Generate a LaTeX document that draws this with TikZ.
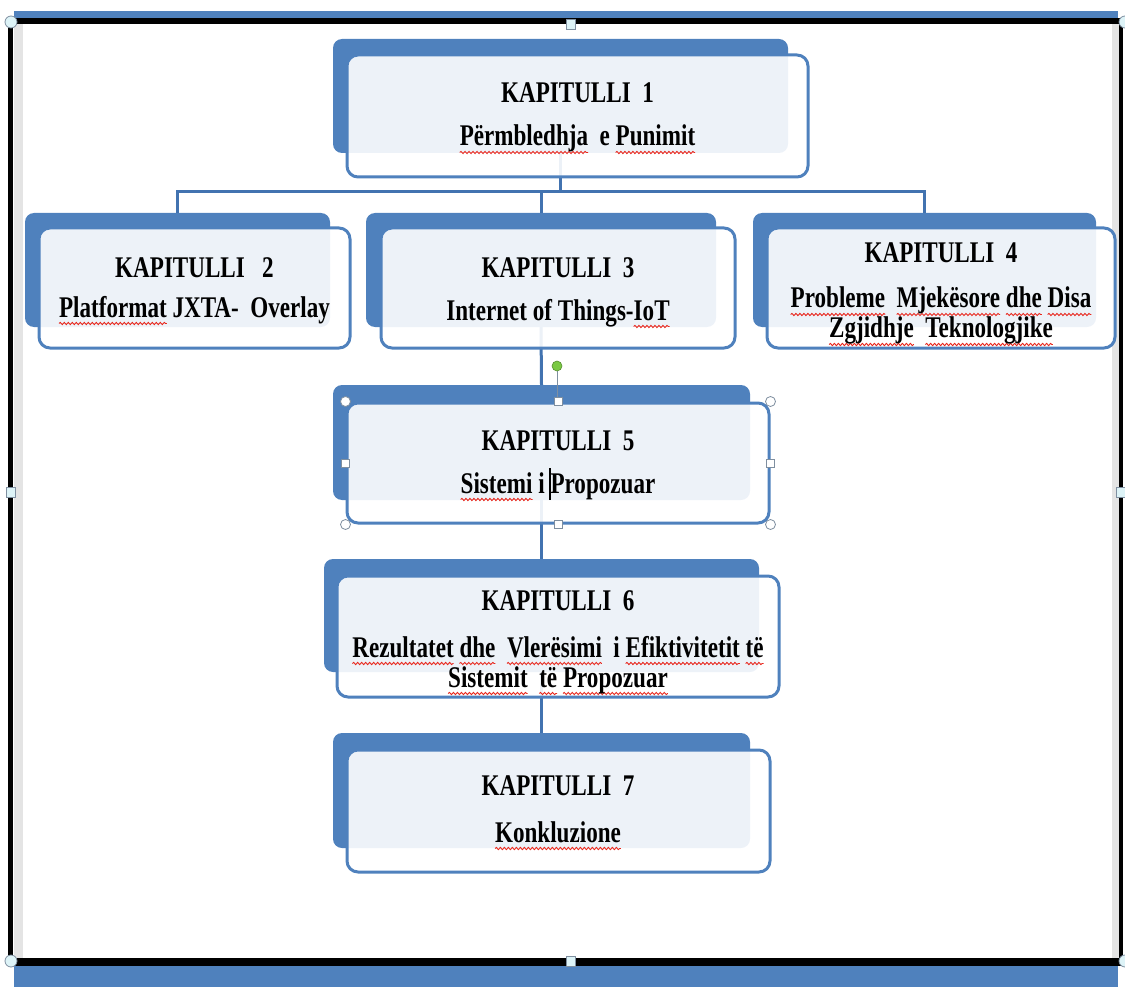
\documentclass[tikz,border=0pt]{standalone}
\usepackage{fontspec}
\usetikzlibrary{decorations.pathmorphing}
\newfontfamily\boxfont{Liberation Serif}[FakeStretch=0.77]

\definecolor{boxBlue}{HTML}{4F81BD}
\definecolor{lineBlue}{HTML}{4273B0}
\definecolor{handleFill}{HTML}{DDF3F7}
\definecolor{handleEdge}{HTML}{7F8FA0}
\definecolor{stripGray}{HTML}{E4E4E4}
\definecolor{rotGreen}{HTML}{7AC943}
\definecolor{waveRed}{HTML}{E8281E}

% red wavy spell-check underline drawn as a small snake path
\newsavebox\wavebox
\newcommand\redwave[1]{\leavevmode\sbox\wavebox{#1}%
  \rlap{\tikz[baseline=0pt]{%
    \path[use as bounding box] (0pt,0pt) rectangle (\the\wd\wavebox,0.1pt);
    \draw[waveRed, line width=0.9pt, decorate,
          decoration={snake, amplitude=1.1pt, segment length=4pt}]
      (0pt,-6.5pt) -- (\the\wd\wavebox,-6.5pt);}}%
  \usebox\wavebox}

\tikzset{
  backbox/.style={fill=boxBlue, draw=none, rounded corners=9pt, inner sep=0pt},
  frontbox/.style={fill=white, fill opacity=0.9, draw=boxBlue, draw opacity=1,
                   line width=3pt, rounded corners=11pt, inner sep=0pt},
  headtext/.style={font=\boxfont\bfseries\fontsize{30}{30}\selectfont,
                   anchor=base, inner sep=0pt, text=black},
  bodytext/.style={headtext},
  conn/.style={draw=lineBlue, line width=3pt},
  selcirc/.style={circle, draw=handleEdge, fill=white, line width=0.8pt,
                  minimum size=10pt, inner sep=0pt},
  selsq/.style={rectangle, draw=handleEdge, fill=white, line width=0.8pt,
                minimum size=8pt, inner sep=0pt},
  framecirc/.style={circle, draw=handleEdge, fill=handleFill, line width=0.8pt,
                    minimum size=12pt, inner sep=0pt},
  framesq/.style={rectangle, draw=handleEdge, fill=handleFill, line width=0.8pt,
                  minimum width=9pt, minimum height=10pt, inner sep=0pt},
}

\begin{document}
\begin{tikzpicture}[x=1pt, y=-1pt]
\useasboundingbox (0,0) rectangle (1125,987);

% ---- outer frame ----
\fill[boxBlue] (14,11) rectangle (1118,18);
\fill[boxBlue] (14,966) rectangle (1118,987);
\fill[stripGray] (14,24) rectangle (23,958);
\fill[stripGray] (1112,24) rectangle (1119,958);
\fill[black] (8,18) rectangle (1125,24);
\fill[black] (8,958) rectangle (1125,966);
\fill[black] (8,18) rectangle (13,966);
\fill[black] (1119,18) rectangle (1123,966);

% ---- connector bus level ----
\coordinate (bus) at (0,192);

% ---- back plates ----
\node[backbox, minimum width=455pt, minimum height=114pt] (b1) at (560.5,96) {};
\node[backbox, minimum width=305pt, minimum height=114pt] (b2) at (177.5,270) {};
\node[backbox, minimum width=350pt, minimum height=114pt] (b3) at (541,270) {};
\node[backbox, minimum width=343pt, minimum height=114pt] (b4) at (924.5,270) {};
\node[backbox, minimum width=417pt, minimum height=115pt] (b5) at (541.5,442.5) {};
\node[backbox, minimum width=435pt, minimum height=113pt] (b6) at (541.5,615.5) {};
\node[backbox, minimum width=417pt, minimum height=115pt] (b7) at (541.5,790.5) {};

% ---- connectors (behind the translucent front panels) ----
\draw[conn] (b1.south) -- (b1.south |- bus);
\draw[conn] (b2.north) -- (b2.north |- bus) -- (b4.north |- bus) -- (b4.north);
\draw[conn] (b3.north) -- (b3.north |- bus);
\draw[conn] (b3.south) -- (b5.north);
\draw[conn] (b5.south) -- (b6.north);
\draw[conn] (b6.south) -- (b7.north);

% ---- front panels ----
\node[frontbox, minimum width=461pt, minimum height=122pt] (f1) at (577.5,116) {};
\node[frontbox, minimum width=311pt, minimum height=120pt] (f2) at (194.5,288) {};
\node[frontbox, minimum width=354pt, minimum height=120pt] (f3) at (558,288) {};
\node[frontbox, minimum width=348pt, minimum height=120pt] (f4) at (941,288) {};
\node[frontbox, minimum width=422pt, minimum height=120pt] (f5) at (558,463) {};
\node[frontbox, minimum width=442pt, minimum height=121pt] (f6) at (558,636.5) {};
\node[frontbox, minimum width=423pt, minimum height=122pt] (f7) at (558.5,811) {};

% ---- texts ----
\node[headtext] (h1) at (577.5,103) {KAPITULLI\ \ 1};
\node[bodytext] (t1) at (577.5,146) {\redwave{Përmbledhja}\ \ e \redwave{Punimit}};

\node[headtext] (h2) at (194.5,277) {KAPITULLI\ \ \ 2};
\node[bodytext] (t2) at (194.5,317) {\redwave{Platformat} JXTA-\ \ Overlay};

\node[headtext] (h3) at (558,277) {KAPITULLI\ \ 3};
\node[bodytext] (t3) at (558,320) {Internet of Things-\redwave{IoT}};

\node[headtext] (h4) at (941,263) {KAPITULLI\ \ 4};
\node[bodytext] (t4) at (941,308) {\begin{tabular}[t]{@{}c@{}}
  \redwave{Probleme}\ \ \redwave{Mjekësore} \redwave{dhe} \redwave{Disa}\\
  \redwave{Zgjidhje}\ \ \redwave{Teknologjike}\end{tabular}};

\node[headtext] (h5) at (558,450) {KAPITULLI\ \ 5};
\node[bodytext] (t5) at (558,493) {\redwave{Sistemi} i Propozuar};

\node[headtext] (h6) at (558,610) {KAPITULLI\ \ 6};
\node[bodytext] (t6) at (558,657) {\begin{tabular}[t]{@{}c@{}}
  \redwave{Rezultatet} \redwave{dhe}\ \ \redwave{Vlerësimi}\ \ i \redwave{Efiktivitetit} \redwave{të}\\
  \redwave{Sistemit}\ \ \redwave{të} \redwave{Propozuar}\end{tabular}};

\node[headtext] (h7) at (558,795) {KAPITULLI\ \ 7};
\node[bodytext] (t7) at (558,842) {\redwave{Konkluzione}};

% ---- text caret ----
\draw[black, line width=1.2pt] (550,468) -- (550,500);

% ---- selection handles on the active panel ----
\draw[handleEdge, line width=0.8pt] (557,371) -- (557,398);
\node[circle, draw=rotGreen!70!black, fill=rotGreen, line width=0.6pt,
      minimum size=10pt, inner sep=0pt] (rot) at (557,366) {};
\foreach \a/\n in {north west/nw, north east/ne, south west/sw, south east/se}
  \node[selcirc] (sel\n) at (f5.\a) {};
\foreach \a/\n in {north/n, south/s, west/w, east/e}
  \node[selsq] (sel\n) at (f5.\a) {};

% ---- frame handles ----
\node[framecirc] (fnw) at (11,22) {};
\node[framecirc] (fsw) at (11,961) {};
\node[framecirc] (fne) at (1125,22) {};
\node[framecirc] (fse) at (1125,961) {};
\node[framesq] (fn) at (571,24) {};
\node[framesq] (fs) at (571,961) {};
\node[framesq] (fw) at (11,492) {};
\node[framesq] (fe) at (1121,492) {};
\end{tikzpicture}
\end{document}
